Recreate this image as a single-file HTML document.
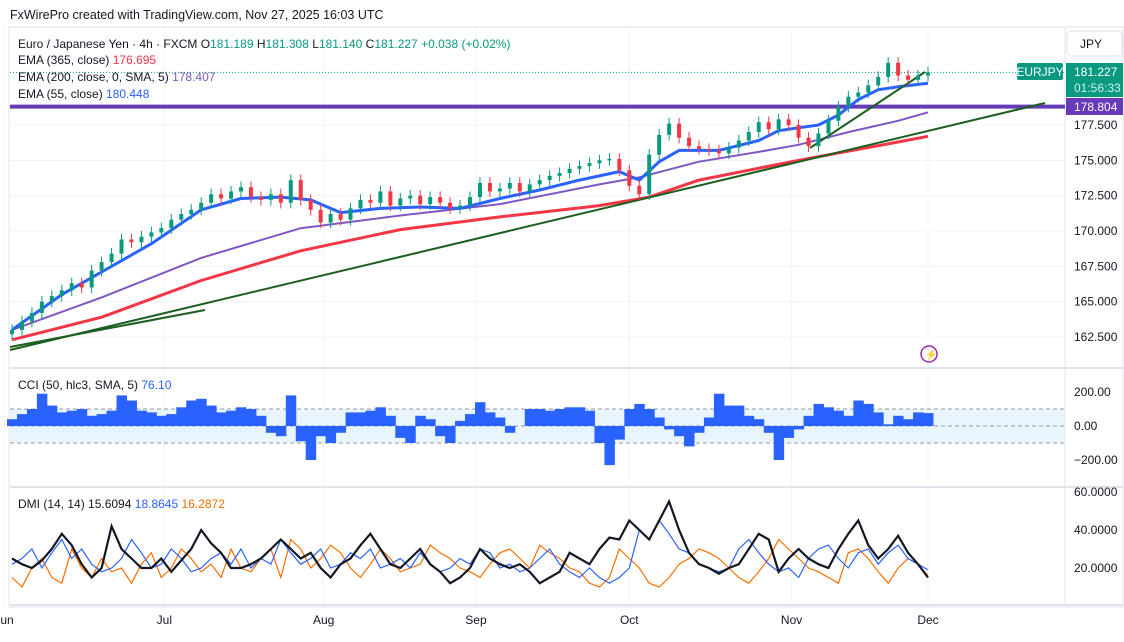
<!DOCTYPE html>
<html><head><meta charset="utf-8"><style>
body{margin:0;background:#fff;font-family:"Liberation Sans",sans-serif;}
svg text{font-family:"Liberation Sans",sans-serif;}
</style></head><body>
<svg id="c" width="1124" height="637" xmlns="http://www.w3.org/2000/svg">
<rect width="1124" height="637" fill="#fff"/>
<text x="10" y="19" font-size="12.5" fill="#131722">FxWirePro created with TradingView.com, Nov 27, 2025 16:03 UTC</text>
<rect x="9" y="27" width="1114" height="580" fill="none" stroke="#e0e3eb"/>
<g id="grid"></g>
<g id="main"></g>
<g id="cci"></g>
<g id="dmi"></g>
<g id="axes"></g>
<g font-size="12">
<text x="18" y="48" fill="#131722">Euro / Japanese Yen · 4h · FXCM <tspan fill="#131722">O</tspan><tspan fill="#089981">181.189</tspan> <tspan>H</tspan><tspan fill="#089981">181.308</tspan> <tspan>L</tspan><tspan fill="#089981">181.140</tspan> <tspan>C</tspan><tspan fill="#089981">181.227</tspan> <tspan fill="#089981">+0.038 (+0.02%)</tspan></text>
<text x="18" y="64" fill="#131722">EMA (365, close) <tspan fill="#f23645">176.695</tspan></text>
<text x="18" y="81" fill="#131722">EMA (200, close, 0, SMA, 5) <tspan fill="#7e57c2">178.407</tspan></text>
<text x="18" y="98" fill="#131722">EMA (55, close) <tspan fill="#2962ff">180.448</tspan></text>
<text x="18" y="389" fill="#131722">CCI (50, hlc3, SMA, 5) <tspan fill="#2962ff">76.10</tspan></text>
<text x="18" y="508" fill="#131722">DMI (14, 14) <tspan fill="#131722">15.6094</tspan> <tspan fill="#2962ff">18.8645</tspan> <tspan fill="#ff6d00">16.2872</tspan></text>
</g>
<rect x="1067" y="31" width="55" height="25" rx="4" fill="#fff" stroke="#e0e3eb"/>
<text x="1080" y="48" font-size="12" fill="#131722">JPY</text>
<circle cx="929" cy="354" r="8" fill="none" stroke="#9c27b0" stroke-width="1.5"/>
<text x="925" y="358" font-size="10" fill="#f23645">⚡</text>
</svg>
<script>
const closes=[163.0,163.6,164.2,165.0,165.4,165.8,166.3,166.0,167.2,167.8,168.4,169.4,169.2,169.6,169.9,170.2,170.8,171.2,171.5,172.0,172.6,172.3,172.8,173.1,172.4,172.2,172.6,172.0,173.6,172.2,171.5,170.6,171.2,170.8,171.6,172.2,172.0,172.8,171.8,172.3,172.5,171.9,172.4,172.0,171.6,171.8,172.4,173.4,172.8,173.0,173.4,172.8,173.3,173.6,173.9,174.1,174.4,174.6,174.8,175.0,175.1,174.3,173.2,172.6,175.4,176.8,177.6,176.6,176.0,175.8,175.7,175.5,175.9,176.4,177.0,177.7,177.2,177.9,177.5,176.6,176.0,176.9,177.8,178.8,179.5,179.8,180.3,180.9,181.9,181.0,180.7,181.0,181.227];
const cciVals=[40,70,100,190,120,80,90,100,60,70,90,180,150,90,80,60,70,110,150,160,120,80,90,110,100,60,-40,-60,180,-90,-200,-60,-100,-40,80,80,90,110,60,-70,-100,60,40,-60,-100,30,70,140,80,50,-40,0,100,100,90,100,110,110,90,-100,-230,-80,100,130,100,50,-20,-60,-120,-40,50,190,120,120,60,40,-40,-200,-70,-20,60,130,110,90,60,150,130,80,10,60,40,80,76];
const adx=[25,22,20,24,30,38,32,22,15,20,42,30,25,20,20,25,18,24,30,40,33,28,20,20,22,25,30,35,30,25,28,20,15,22,25,32,38,30,22,20,25,30,22,18,12,15,20,30,25,22,20,22,18,12,15,18,28,25,22,30,36,35,45,40,35,45,55,40,28,22,20,17,20,22,30,38,35,18,25,30,25,22,20,30,38,45,32,25,30,37,28,22,15];
const diPlus=[22,25,30,20,28,35,25,30,22,18,20,25,35,28,20,22,30,25,18,20,25,28,22,30,20,25,22,35,28,22,25,30,20,22,28,25,30,20,22,25,20,28,22,18,20,25,22,30,28,20,22,18,20,25,30,22,18,15,20,15,12,15,20,40,35,45,38,30,28,22,20,18,20,30,35,28,22,18,20,15,25,30,32,25,20,28,30,22,28,32,25,22,19];
const diMinus=[15,10,20,25,15,12,30,20,15,25,18,20,12,22,28,15,20,30,25,18,22,15,30,20,18,25,30,15,35,30,20,25,32,28,20,15,22,30,25,18,20,22,32,28,25,20,18,15,22,28,30,25,20,32,28,25,20,18,12,10,15,30,25,20,12,10,15,22,25,30,28,25,20,15,12,18,25,35,30,25,20,18,15,12,28,30,25,18,12,20,25,22,16];
const ema55=[[0,163],[5,165.5],[9,167.1],[14,169.1],[19,171.5],[23,172.3],[27,172.4],[30,172.2],[33,171.3],[37,171.6],[41,171.7],[45,171.6],[49,172.3],[53,172.9],[57,173.6],[61,174.2],[63,173.6],[65,174.9],[67,175.7],[71,175.7],[75,176.4],[77,177.1],[79,177.3],[81,177.5],[83,178.2],[85,179.3],[87,180.0],[89,180.2],[92,180.45]];
const ema200=[[0,163],[9,165.3],[19,168.1],[29,170.2],[39,171.1],[49,171.9],[59,173.3],[63,173.8],[69,174.9],[75,175.6],[79,176.1],[84,177.0],[89,177.8],[92,178.4]];
const ema365=[[0,162.3],[9,163.9],[19,166.5],[29,168.6],[39,170.1],[49,171.0],[59,171.8],[64,172.4],[69,173.6],[79,175.0],[89,176.3],[92,176.7]];
const priceTicks=[177.5,175,172.5,170,167.5,165,162.5];
const cciTicks=[200,0,-200];
const dmiTicks=[60,40,20];
const months=["Jun","Jul","Aug","Sep","Oct","Nov","Dec"];
const monthIdx=[-0.8,15.3,31.3,46.6,62,78.3,92];

const NS="http://www.w3.org/2000/svg";
const n=closes.length;
const xs=i=>12+i*(916/(n-1));
const yP=p=>125+(177.5-p)*14.133;
const yC=v=>426-v*0.17;
const yD=v=>568-(v-20)*1.9;
function mk(tag,attrs,parent){const e=document.createElementNS(NS,tag);for(const k in attrs)e.setAttribute(k,attrs[k]);document.getElementById(parent).appendChild(e);return e;}

months.forEach((m,k)=>{const g=mk('line',{x1:xs(monthIdx[k]),x2:xs(monthIdx[k]),y1:28,y2:605,stroke:'#f0f3fa'},'grid');

});
priceTicks.forEach(t=>{const g=mk('line',{x1:10,x2:1065,y1:yP(t),y2:yP(t),stroke:'#f0f3fa'},'grid');

});
[368,487,605].forEach(y=>{const g=mk('line',{x1:10,x2:1123,y1:y,y2:y,stroke:'#e0e3eb','stroke-width':2},'grid');

});
const ax=mk('line',{x1:1065,x2:1065,y1:28,y2:605,stroke:'#e0e3eb'},'grid');



function lineFrom(pts,col,w,name){const d=pts.map((p,k)=>(k?'L':'M')+xs(p[0]).toFixed(1)+','+yP(p[1]).toFixed(1)).join('');
const e=mk('path',{d:d,fill:'none',stroke:col,'stroke-width':w,'stroke-linejoin':'round'},'main');

}
const hl=mk('line',{x1:10,x2:1065,y1:yP(178.804),y2:yP(178.804),stroke:'#673ab7','stroke-width':4},'main');


const dl=mk('line',{x1:10,x2:1065,y1:yP(181.227),y2:yP(181.227),stroke:'#089981','stroke-dasharray':'1 2'},'main');


lineFrom(ema365,'#f23645',3,'ema-365');
lineFrom(ema200,'#7e57c2',2,'ema-200');
lineFrom(ema55,'#2962ff',3,'ema-55');
[[10,350,1045,103],[10,347,205,310],[810,148,925,72]].forEach(t=>{const e=mk('line',{x1:t[0],y1:t[1],x2:t[2],y2:t[3],stroke:'#1b5e20','stroke-width':2},'main');

});
for(let i=0;i<n;i++){const c=closes[i],o=i?closes[i-1]:c-0.3;const up=c>=o;const col=up?'#089981':'#f23645';
const hi=Math.max(o,c)+0.4,lo=Math.min(o,c)-0.4;
const w=mk('line',{x1:xs(i),x2:xs(i),y1:yP(hi),y2:yP(lo),stroke:col},'main');


const b=mk('rect',{x:xs(i)-2,width:4,y:yP(Math.max(o,c)),height:Math.max(1,Math.abs(yP(o)-yP(c))),fill:col},'main');

}

const band=mk('rect',{x:10,width:1055,y:yC(100),height:yC(-100)-yC(100),fill:'#e3f2fd',opacity:0.8},'cci');


[100,0,-100].forEach(v=>{const e=mk('line',{x1:10,x2:1065,y1:yC(v),y2:yC(v),stroke:'#9598a1','stroke-dasharray':'4 3'},'cci');

});
const bw=916/(n-1);
cciVals.forEach((v,i)=>{const y0=yC(0),y1=yC(v);const e=mk('rect',{x:xs(i)-bw/2,width:bw+0.5,y:Math.min(y0,y1),height:Math.abs(y1-y0),fill:'#2962ff'},'cci');

});

function dline(arr,col,w,name){const d=arr.map((v,i)=>(i?'L':'M')+xs(i).toFixed(1)+','+yD(v).toFixed(1)).join('');
const e=mk('path',{d:d,fill:'none',stroke:col,'stroke-width':w},'dmi');

}
dline(diMinus,'#ff6d00',1.2,'di-minus-line');
dline(diPlus,'#2962ff',1.2,'di-plus-line');
dline(adx,'#131722',2.2,'adx-line');

function txt(x,y,s,col,name,anchor){const e=mk('text',{x:x,y:y,'font-size':12,fill:col,'text-anchor':anchor||'start'},'axes');e.textContent=s;

return e;}
priceTicks.forEach(t=>txt(1074,yP(t)+4,t.toFixed(3),'#131722','price-tick'));
cciTicks.forEach(t=>txt(1074,yC(t)+4,t.toFixed(2).replace('-','−'),'#131722','cci-tick'));
dmiTicks.forEach(t=>txt(1074,yD(t)+4,t.toFixed(4),'#131722','dmi-tick'));
months.forEach((m,k)=>txt(xs(monthIdx[k]),624,m,'#131722','month-label','middle'));
const eb=mk('rect',{x:1017,y:63,width:46,height:17,rx:2,fill:'#089981'},'axes');


txt(1040,76,'EURJPY','#fff','symbol-tag-text','middle');
const pb=mk('rect',{x:1066,y:63,width:57,height:34,fill:'#089981'},'axes');


txt(1074,76,'181.227','#fff','last-price-text');
txt(1074,92,'01:56:33','#d1f2ea','countdown-text');
const rb=mk('rect',{x:1066,y:98,width:57,height:17,fill:'#673ab7'},'axes');


txt(1074,111,'178.804','#fff','resistance-text');
</script>
</body></html>
